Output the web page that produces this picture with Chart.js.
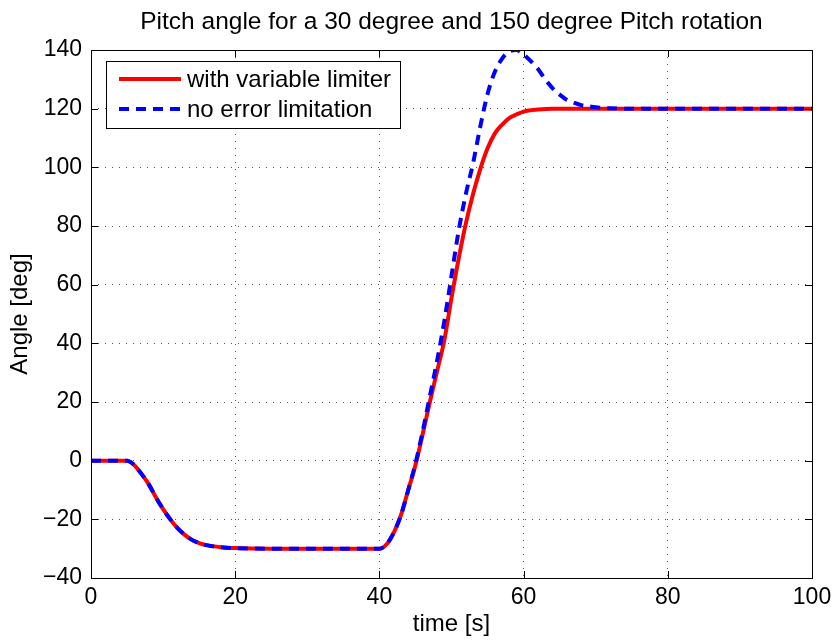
<!DOCTYPE html>
<html lang="en">
<head>
  <meta charset="UTF-8" />
  <title>Pitch angle</title>
  <script src="https://cdn.jsdelivr.net/npm/chart.js"></script>
  <style>
    body {
      margin: 0;
      background: #fff;
    }
    #wrap {
      width: 839px;
      height: 640px;
    }
  </style>
</head>
<body>

<div id="wrap"><canvas id="pitchChart" width="839" height="640"></canvas></div>

<script>
  // with variable limiter
  const tiempoRojo = [0, 5, 5.5, 6, 7, 8, 9, 10, 11, 12, 13, 14, 15, 16, 18, 20, 25, 30, 35, 40,
    41, 42, 43, 44, 45, 46, 47, 48, 49, 50, 51, 52, 53, 54, 55, 56, 57, 58, 59, 60, 62, 64, 70, 80, 90, 100];
  const anguloRojo = [0, 0, -0.5, -1.5, -4.5, -8, -12.5, -16.5, -20, -23, -25.3, -27, -28.1, -28.8, -29.5, -29.8, -30, -30, -30, -30,
    -28.5, -24.5, -18.5, -10, -1.5, 9, 20, 30.5, 41, 55.5, 69, 81, 91, 99.5, 106.5, 111.5, 114.5, 116.8, 118, 119, 119.7, 120, 120, 120, 120, 120];

  // no error limitation
  const tiempoAzul = [0, 5, 5.5, 6, 7, 8, 9, 10, 11, 12, 13, 14, 15, 16, 18, 20, 25, 30, 35, 40,
    41, 42, 43, 44, 45, 46, 47, 48, 49, 50, 51, 52, 53, 54, 55, 56, 57, 58, 59, 60, 61, 62, 63, 64, 65, 66, 67, 68, 70, 72, 75, 80, 90, 100];
  const anguloAzul = [0, 0, -0.5, -1.5, -4.5, -8, -12.5, -16.5, -20, -23, -25.3, -27, -28.1, -28.8, -29.5, -29.8, -30, -30, -30, -30,
    -28.5, -24.5, -18.5, -10, -1, 10, 22, 34, 47.5, 63, 78.5, 91, 101.5, 114, 125, 132.5, 137, 139.5, 140, 138.5, 136.2, 133.5, 130, 127, 124.8, 123, 122, 121.2, 120.5, 120.1, 120, 120, 120, 120];

  const ticksX = [0, 20, 40, 60, 80, 100];
  const ticksY = [-40, -20, 0, 20, 40, 60, 80, 100, 120, 140];

  const titulo = 'Pitch angle for a 30 degree and 150 degree Pitch rotation';
  const fuente = 'Liberation Sans, Arial, sans-serif';

  const puntos = (xs, ys) => xs.map((x, i) => ({ x: x, y: ys[i] }));

  // titulo, marco, marcas interiores y leyenda estilo MATLAB
  const marcoPlugin = {
    id: 'marco',
    afterDraw(chart) {
      const { ctx, chartArea: a, scales } = chart;
      ctx.save();

      // titulo centrado sobre el area del grafico
      ctx.fillStyle = '#000';
      ctx.font = '24.5px ' + fuente;
      ctx.textAlign = 'center';
      ctx.textBaseline = 'middle';
      ctx.fillText(titulo, (a.left + a.right) / 2, 22);
      ctx.textAlign = 'left';

      ctx.strokeStyle = '#000';
      ctx.lineWidth = 1;
      ctx.setLineDash([]);
      ctx.strokeRect(a.left + 0.5, a.top + 0.5, a.right - a.left, a.bottom - a.top);
      ctx.beginPath();
      ticksX.forEach(v => {
        const x = Math.round(scales.x.getPixelForValue(v)) + 0.5;
        ctx.moveTo(x, a.bottom); ctx.lineTo(x, a.bottom - 7);
        ctx.moveTo(x, a.top); ctx.lineTo(x, a.top + 7);
      });
      ticksY.forEach(v => {
        const y = Math.round(scales.y.getPixelForValue(v)) + 0.5;
        ctx.moveTo(a.left, y); ctx.lineTo(a.left + 7, y);
        ctx.moveTo(a.right, y); ctx.lineTo(a.right - 7, y);
      });
      ctx.stroke();

      // leyenda
      const bx = 106, by = 61, bw = 294, bh = 67;
      ctx.fillStyle = '#fff';
      ctx.fillRect(bx, by, bw, bh);
      ctx.strokeRect(bx + 0.5, by + 0.5, bw, bh);
      ctx.font = '24px ' + fuente;
      chart.data.datasets.forEach((ds, i) => {
        const y = 79 + i * 30;
        ctx.strokeStyle = ds.borderColor;
        ctx.lineWidth = ds.borderWidth;
        ctx.setLineDash(ds.borderDash || []);
        ctx.beginPath();
        ctx.moveTo(119, y);
        ctx.lineTo(181, y);
        ctx.stroke();
        ctx.fillStyle = '#000';
        ctx.fillText(ds.label, 187, y + 1);
      });
      ctx.restore();
    }
  };

  new Chart(document.getElementById('pitchChart').getContext('2d'), {
    type: 'line',
    data: {
      datasets: [{
        label: 'with variable limiter',
        data: puntos(tiempoRojo, anguloRojo),
        borderColor: '#ff0000',
        borderWidth: 4,
        pointRadius: 0,
        cubicInterpolationMode: 'monotone',
        order: 1
      }, {
        label: 'no error limitation',
        data: puntos(tiempoAzul, anguloAzul),
        borderColor: '#0000ff',
        borderWidth: 4,
        borderDash: [10, 7],
        pointRadius: 0,
        cubicInterpolationMode: 'monotone',
        order: 0
      }]
    },
    options: {
      responsive: false,
      animation: false,
      layout: { padding: { left: 0, right: 27, top: 50, bottom: 0 } },
      plugins: {
        legend: { display: false },
        tooltip: { enabled: false },
        title: { display: false }
      },
      scales: {
        x: {
          type: 'linear',
          min: 0,
          max: 100,
          afterFit: s => { s.height = 62; },
          afterBuildTicks: s => { s.ticks = ticksX.map(v => ({ value: v })); },
          grid: { color: '#555', lineWidth: 1, tickLength: 0 },
          border: { display: false, dash: [1, 6] },
          ticks: { color: '#000', font: { family: fuente, size: 23 }, padding: 6, maxRotation: 0 },
          title: { display: true, text: 'time [s]', color: '#000', font: { family: fuente, size: 24 }, padding: { top: 0, bottom: 1 } }
        },
        y: {
          min: -40,
          max: 140,
          afterFit: s => { s.width = 91; },
          afterBuildTicks: s => { s.ticks = ticksY.map(v => ({ value: v })); },
          grid: { color: '#555', lineWidth: 1, tickLength: 0 },
          border: { display: false, dash: [1, 6] },
          ticks: { color: '#000', font: { family: fuente, size: 23 }, padding: 9,
            callback: v => v < 0 ? '\u2212' + Math.abs(v) : v },
          title: { display: true, text: 'Angle [deg]', color: '#000', font: { family: fuente, size: 24 }, padding: { top: 6, bottom: 0 } }
        }
      }
    },
    plugins: [marcoPlugin]
  });
</script>

</body>
</html>
